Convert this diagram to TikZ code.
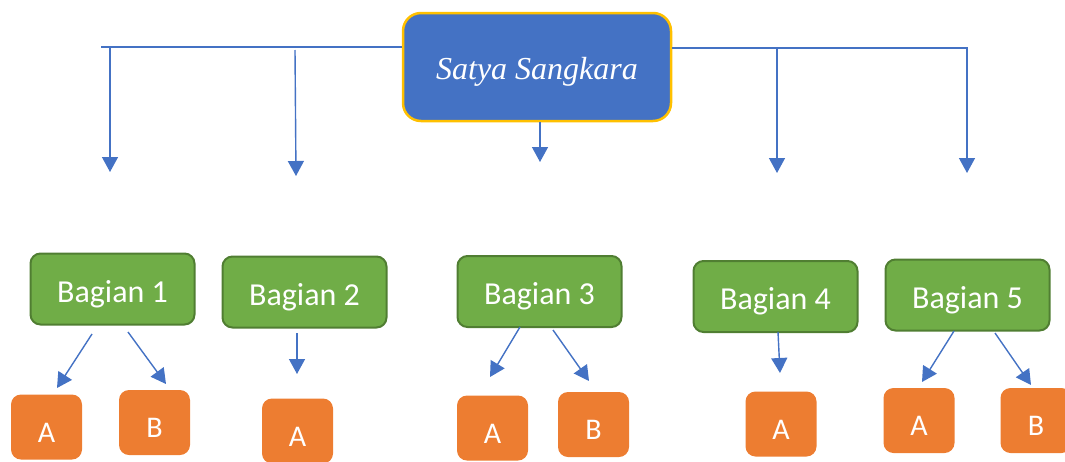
\documentclass[tikz,border=0pt]{standalone}
\usepackage{fontspec}
\setmainfont{Carlito}
\newfontfamily\titlefont{Liberation Serif}
\usetikzlibrary{arrows.meta}
\definecolor{topblue}{HTML}{4472C4}
\definecolor{gold}{HTML}{FFC000}
\definecolor{grn}{HTML}{70AD47}
\definecolor{grnedge}{HTML}{507E32}
\definecolor{org}{HTML}{ED7D31}
\definecolor{linecol}{HTML}{4472C4}
\tikzset{
  topbox/.style={draw=gold, line width=2.5pt, fill=topblue, rounded corners=18pt,
    minimum width=268pt, minimum height=108pt, text=white, inner sep=0pt,
    text height=24pt, text depth=0pt,
    font=\titlefont\itshape\fontsize{32}{38}\selectfont},
  partbox/.style={draw=grnedge, line width=2pt, fill=grn, rounded corners=10pt,
    minimum width=164pt, minimum height=71pt, text=white, inner sep=0pt,
    text height=26pt, text depth=0pt,
    font=\fontsize{32}{38}\selectfont},
  leafbox/.style={fill=org, rounded corners=10pt, minimum width=71pt,
    minimum height=65pt, text=white, inner sep=0pt,
    text height=30pt, text depth=0pt,
    font=\fontsize{30}{34}\selectfont},
  conn/.style={draw=linecol, line width=1.4pt},
  arr/.style={conn, -{Triangle[width=16pt,length=15pt]}, draw=linecol, fill=linecol},
}
\begin{document}
\begin{tikzpicture}[x=1pt,y=-1pt]
\useasboundingbox (0,0) rectangle (1065,461);
% top
\node[topbox] (top) at (537,67) {Satya Sangkara};
% parts
\node[partbox] (p1) at (112.5,289) {Bagian 1};
\node[partbox] (p2) at (304.5,292) {Bagian 2};
\node[partbox] (p3) at (539.5,291.5) {Bagian 3};
\node[partbox] (p4) at (775.5,296.5) {Bagian 4};
\node[partbox] (p5) at (967.5,295) {Bagian 5};
% leaves
\node[leafbox] (a1) at (46.5,427) {A};
\node[leafbox] (b1) at (154.5,422.5) {B};
\node[leafbox] (a2) at (297.5,431) {A};
\node[leafbox] (a3) at (492.5,428) {A};
\node[leafbox] (b3) at (593.5,424.5) {B};
\node[leafbox] (a4) at (781,424) {A};
\node[leafbox] (a5) at (919,420.5) {A};
\node[leafbox] (b5) at (1036,420.5) {B};
% bus line coordinates
\coordinate (l0) at (101,47);
\coordinate (r0) at (968,48);
\coordinate (s1) at (110,47);   \coordinate (t1) at (110,172);
\coordinate (s2) at (295,50);   \coordinate (t2) at (296,176);
\coordinate (s3) at (540,122);  \coordinate (t3) at (540,162);
\coordinate (s4) at (777,48);   \coordinate (t4) at (777,173);
\coordinate (s5) at (967,48);   \coordinate (t5) at (967,173);
\draw[conn] (l0) -- (top.west |- l0);
\draw[conn] (top.east |- r0) -- (r0);
\draw[arr] (s1) -- (t1);
\draw[arr] (s2) -- (t2);
\draw[arr] (s3) -- (t3);
\draw[arr] (s4) -- (t4);
\draw[arr] (s5) -- (t5);
% small arrows
\coordinate (p1a) at (92,334);  \coordinate (q1a) at (57,388);
\coordinate (p1b) at (128,332); \coordinate (q1b) at (166,384);
\coordinate (p2a) at (297,333); \coordinate (q2a) at (297,374);
\coordinate (p3a) at (520,327); \coordinate (q3a) at (490,377);
\coordinate (p3b) at (553,330); \coordinate (q3b) at (589,381);
\coordinate (p4a) at (778,332); \coordinate (q4a) at (780,373);
\coordinate (p5a) at (954,331); \coordinate (q5a) at (922,382);
\coordinate (p5b) at (995,333); \coordinate (q5b) at (1031,385);
\draw[arr] (p1a) -- (q1a);
\draw[arr] (p1b) -- (q1b);
\draw[arr] (p2a) -- (q2a);
\draw[arr] (p3a) -- (q3a);
\draw[arr] (p3b) -- (q3b);
\draw[arr] (p4a) -- (q4a);
\draw[arr] (p5a) -- (q5a);
\draw[arr] (p5b) -- (q5b);
\end{tikzpicture}
\end{document}
